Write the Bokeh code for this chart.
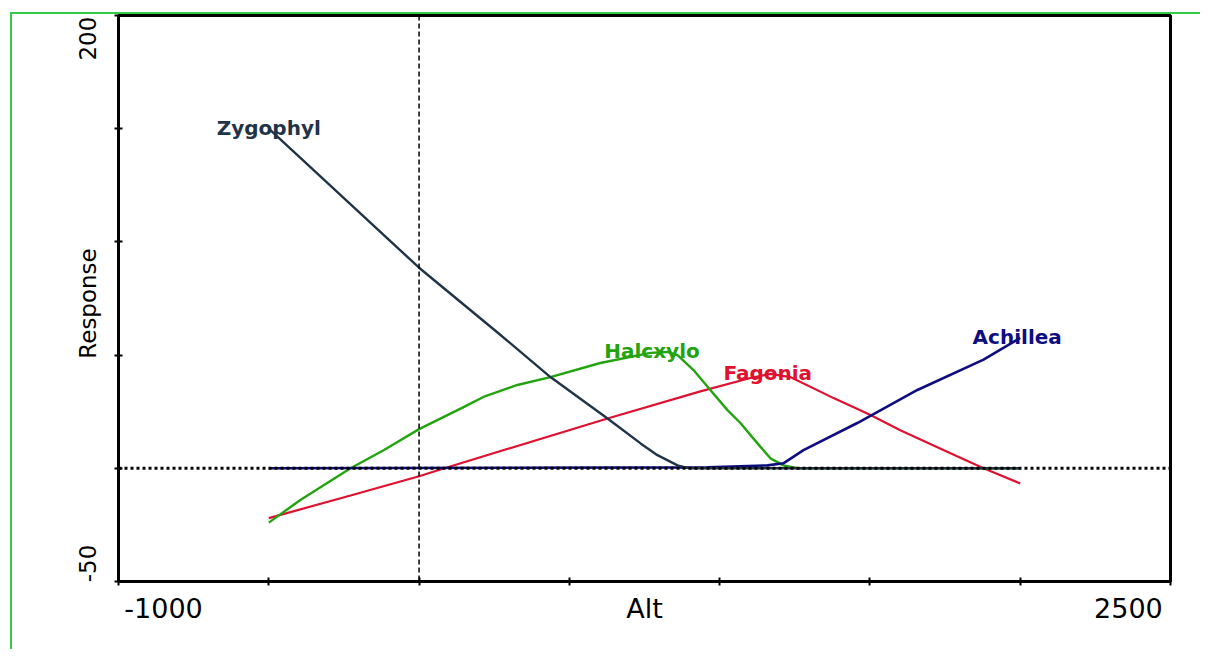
from bokeh.plotting import figure
from bokeh.models import Range1d, FixedTicker, LinearAxis, Span
from bokeh.core.properties import value
from bokeh.embed import file_html
from bokeh.resources import INLINE

# ---- data ----
zygo_x = [-500, 0, 261, 437, 627, 737, 793, 860, 900, 2000]
zygo_y = [150, 88.6, 60, 40.3, 22, 11, 5.8, 1.3, 0, 0]

halo_x = [-500, -395, -228, -118, 0, 148, 214, 327, 437, 603, 770, 826, 860, 913,
          969, 1026, 1069, 1126, 1169, 1212, 1260, 2000]
halo_y = [-24, -14, 0, 8, 17.3, 27, 31.5, 36.8, 40.3, 46.5, 51, 51.4, 50, 43.4,
          34.6, 25.7, 20, 11, 4.4, 1.3, 0, 0]

fago_x = [-500, -228, 0, 71, 627, 936, 1102, 1169, 1235, 1379, 1502, 1601, 1768, 1878, 2000]
fago_y = [-22, -12, -3.5, -0.5, 22, 34, 39.9, 41.7, 40.3, 31, 23.5, 16.8, 6.6, 0, -6.7]

achi_x = [-500, 960, 1159, 1212, 1279, 1458, 1658, 1878, 2000]
achi_y = [0, 0.4, 1.3, 2.2, 8, 20, 34.6, 48, 57.6]

species = ["Zygophyl", "Halcxylo", "Fagonia", "Achillea"]
label_x = [-500, 775, 1160, 1990]
label_y = [150, 51.5, 41.7, 57.6]

x_ticks = [-1000, -500, 0, 500, 1000, 1500, 2000, 2500]
y_ticks = [-50, 0, 50, 100, 150, 200]
x_min, x_max = -1000, 2500
y_min, y_max = -50, 200
x_title = "Alt"
y_title = "Response"

# ---- layout (label placement, not data) ----
x_text_pos = [-850, 750, 2360]
y_text_pos = [189.8, 72.8, -42]

colors = {"Zygophyl": "#1f3447", "Halcxylo": "#22a30f", "Fagonia": "#e0102f", "Achillea": "#0d0d80"}
FONT = "DejaVu Sans"

p = figure(width=1200, height=649, output_backend="svg", toolbar_location=None,
           x_range=Range1d(x_min, x_max), y_range=Range1d(y_min, y_max),
           min_border_left=118, min_border_right=30, min_border_top=15, min_border_bottom=68)
p.border_fill_color = None
p.background_fill_color = "white"
p.styles = {"box-shadow": "inset 10px 12px 0 0 #ffffff, inset 12px 14px 0 0 #33cc44"}
p.xgrid.visible = False
p.ygrid.visible = False
p.outline_line_color = "black"
p.outline_line_width = 3
p.outline_line_alpha = 1

# axes carrying the tick marks
for ax, ticks in ((p.xaxis[0], x_ticks), (p.yaxis[0], y_ticks)):
    ax.ticker = FixedTicker(ticks=ticks)
    ax.axis_line_width = 3
    ax.major_tick_line_width = 2
    ax.major_tick_in = 4
    ax.major_tick_out = 4
    ax.minor_tick_line_color = None
    ax.major_label_overrides = {t: "" for t in ticks}
    ax.major_label_text_font_size = "1px"
    ax.major_label_standoff = 0

# axes carrying the texts (end values and titles)
x_texts = [str(x_min), x_title, str(x_max)]
y_texts = [str(y_max), y_title, str(y_min)]
xt = LinearAxis(ticker=FixedTicker(ticks=x_text_pos),
                major_label_overrides=dict(zip(x_text_pos, x_texts)))
yt = LinearAxis(ticker=FixedTicker(ticks=y_text_pos),
                major_label_overrides=dict(zip(y_text_pos, y_texts)),
                major_label_orientation="vertical")
for ax, size, standoff in ((xt, "27px", 1), (yt, "23px", 7)):
    ax.axis_line_color = None
    ax.major_tick_line_color = None
    ax.minor_tick_line_color = None
    ax.major_label_text_font = FONT
    ax.major_label_text_font_size = size
    ax.major_label_text_color = "black"
    ax.major_label_standoff = standoff
p.add_layout(xt, "below")
p.add_layout(yt, "left")

# reference lines
p.add_layout(Span(location=0, dimension="width", line_color="black", line_width=3, line_dash="3 3"))
p.add_layout(Span(location=0, dimension="height", line_color="black", line_width=1.5, line_dash="5 3"))

p.line(fago_x, fago_y, line_color=colors["Fagonia"], line_width=2.2)
p.line(halo_x, halo_y, line_color=colors["Halcxylo"], line_width=2.4)
p.line(achi_x, achi_y, line_color=colors["Achillea"], line_width=2.6)
p.line(zygo_x, zygo_y, line_color=colors["Zygophyl"], line_width=2.4)

p.text(x=label_x, y=label_y, text=species, text_color=[colors[s] for s in species],
       text_font=value(FONT), text_font_style="bold", text_font_size="20px",
       text_align="center", text_baseline="alphabetic", y_offset=-1)

open("out.html", "w").write(file_html(p, INLINE))
